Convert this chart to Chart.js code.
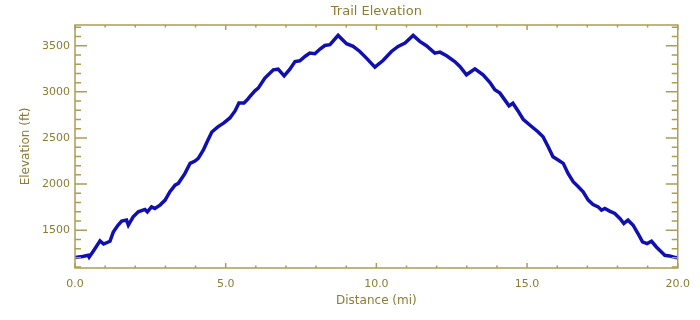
<!DOCTYPE html>
<html>
<head>
<meta charset="utf-8">
<script src="https://cdn.jsdelivr.net/npm/chart.js@4/dist/chart.umd.min.js"></script>
<style>
html,body{margin:0;padding:0;background:#fff;}
#wrap{width:700px;height:320px;}
</style>
</head>
<body>
<div id="wrap"><canvas id="c" width="700" height="320"></canvas></div>
<script>
// ---- data ----
const distance = [0.00,0.25,0.44,0.47,0.60,0.83,0.95,1.16,1.27,1.43,1.55,1.71,1.77,1.93,2.10,2.32,2.40,2.54,2.65,2.82,2.99,3.15,3.32,3.43,3.65,3.82,3.98,4.09,4.26,4.38,4.54,4.74,4.94,5.14,5.31,5.44,5.61,5.74,5.80,5.97,6.08,6.30,6.58,6.74,6.94,7.13,7.30,7.46,7.63,7.79,7.96,8.13,8.29,8.46,8.73,9.01,9.23,9.45,9.67,9.95,10.22,10.50,10.72,10.95,11.22,11.44,11.66,11.94,12.11,12.33,12.60,12.77,12.99,13.27,13.54,13.77,13.93,14.10,14.26,14.40,14.53,14.70,14.87,15.09,15.36,15.53,15.70,15.86,16.03,16.20,16.36,16.53,16.70,16.86,17.03,17.19,17.36,17.47,17.58,17.74,17.91,18.08,18.21,18.35,18.52,18.68,18.83,18.98,19.13,19.29,19.46,19.57,19.73,19.93,20.00];
const elevation = [1203,1215,1228,1208,1270,1384,1350,1380,1480,1555,1598,1609,1554,1645,1699,1725,1699,1753,1736,1772,1826,1917,1989,2008,2116,2225,2250,2279,2370,2457,2565,2620,2663,2717,2793,2880,2880,2924,2949,3011,3040,3149,3239,3246,3174,3246,3329,3337,3384,3420,3413,3464,3503,3511,3612,3522,3493,3438,3366,3268,3340,3438,3493,3529,3612,3547,3500,3420,3431,3391,3329,3275,3185,3250,3185,3101,3022,2986,2913,2848,2877,2793,2703,2641,2568,2514,2405,2297,2261,2225,2116,2025,1971,1917,1826,1779,1753,1717,1736,1707,1682,1627,1573,1609,1554,1464,1373,1355,1380,1318,1264,1228,1221,1203,1200];
const xMajorTicks = [0,5,10,15,20];
const xMinorTicks = [1,2,3,4,6,7,8,9,11,12,13,14,16,17,18,19];
const yMajorTicks = [1500,2000,2500,3000,3500];
const yMinorTicks = [1100,1200,1300,1400,1600,1700,1800,1900,2100,2200,2300,2400,2600,2700,2800,2900,3100,3200,3300,3400,3600,3700];
const titleText = 'Trail Elevation';
const xTitle = 'Distance (mi)';
const yTitle = 'Elevation (ft)';

const axisColor = '#ad9d55';
const textColor = '#8c7c34';
const lineColor = '#1010b0';
const fontFamily = '"DejaVu Sans", sans-serif';

const framePlugin = {
  id: 'frame',
  afterDraw(chart) {
    const {ctx, chartArea: a, scales} = chart;
    const xs = scales.x, ys = scales.y;
    ctx.save();
    ctx.strokeStyle = axisColor;
    ctx.lineWidth = 1.5;
    ctx.strokeRect(a.left, a.top, a.right - a.left, a.bottom - a.top);
    ctx.lineWidth = 1.5;
    ctx.beginPath();
    const xt = (v, len) => {
      const p = xs.getPixelForValue(v);
      ctx.moveTo(p, a.bottom); ctx.lineTo(p, a.bottom - len);
      ctx.moveTo(p, a.top); ctx.lineTo(p, a.top + len);
    };
    const yt = (v, len) => {
      const p = ys.getPixelForValue(v);
      ctx.moveTo(a.left, p); ctx.lineTo(a.left + len, p);
      ctx.moveTo(a.right, p); ctx.lineTo(a.right - len, p);
    };
    xMajorTicks.forEach(v => xt(v, 5));
    xMinorTicks.forEach(v => xt(v, 2.5));
    yMajorTicks.forEach(v => yt(v, 12));
    yMinorTicks.forEach(v => yt(v, 6));
    ctx.stroke();
    ctx.fillStyle = textColor;
    ctx.font = '13px ' + fontFamily;
    ctx.textAlign = 'center';
    ctx.textBaseline = 'middle';
    ctx.fillText(titleText, (a.left + a.right) / 2, 12);
    ctx.restore();
  }
};

new Chart(document.getElementById('c'), {
  type: 'line',
  data: {
    datasets: [{
      data: distance.map((d, i) => ({x: d, y: elevation[i]})),
      borderColor: lineColor,
      borderWidth: 3.5,
      pointRadius: 0,
      tension: 0,
      fill: false
    }]
  },
  options: {
    responsive: false,
    devicePixelRatio: 1,
    animation: false,
    layout: {padding: {left: 0, right: 22, top: 25, bottom: 0}},
    plugins: {legend: {display: false}, tooltip: {enabled: false}, title: {display: false}},
    scales: {
      x: {
        type: 'linear', min: 0, max: 20,
        afterBuildTicks: s => { s.ticks = xMajorTicks.map(v => ({value: v})); },
        afterFit: s => { s.height = 52; },
        grid: {display: false, drawTicks: false},
        border: {display: false},
        ticks: {color: textColor, font: {family: fontFamily, size: 11}, padding: 10, maxRotation: 0,
          callback: v => Number(v).toFixed(1)},
        title: {display: true, text: xTitle, color: textColor, font: {family: fontFamily, size: 12}, padding: {top: 0, bottom: 12}}
      },
      y: {
        type: 'linear', min: 1090, max: 3725,
        afterBuildTicks: s => { s.ticks = yMajorTicks.map(v => ({value: v})); },
        afterFit: s => { s.width = 75; },
        grid: {display: false, drawTicks: false},
        border: {display: false},
        ticks: {color: textColor, font: {family: fontFamily, size: 11}, padding: 5,
          callback: v => String(v)},
        title: {display: true, text: yTitle, color: textColor, font: {family: fontFamily, size: 12}, padding: {top: 19, bottom: 0}}
      }
    }
  },
  plugins: [framePlugin]
});
</script>
</body>
</html>
